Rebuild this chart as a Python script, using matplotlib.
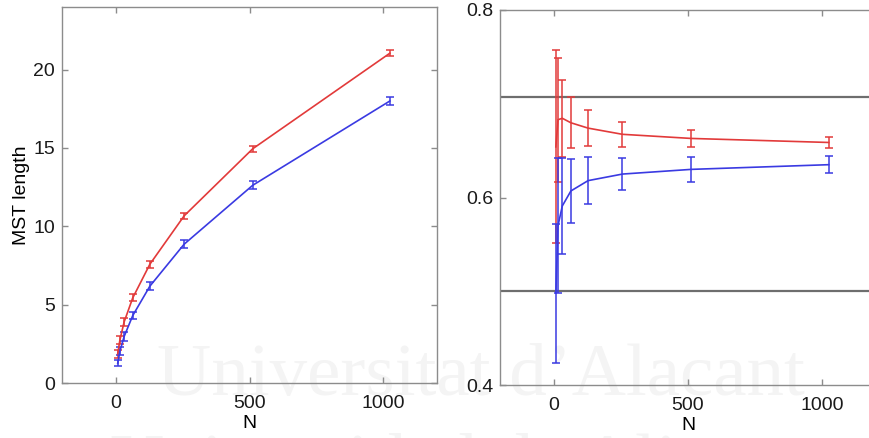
import matplotlib
matplotlib.use("Agg")
import matplotlib.pyplot as plt

# problem sizes
N = [8, 16, 32, 64, 128, 256, 512, 1024]

# left panel: MST length (mean and error)
mst_red = [1.85, 2.73, 3.90, 5.43, 7.58, 10.67, 14.95, 21.05]
mst_red_err = [0.28, 0.26, 0.23, 0.22, 0.21, 0.20, 0.20, 0.19]
mst_blue = [1.25, 2.02, 2.97, 4.30, 6.18, 8.86, 12.62, 18.00]
mst_blue_err = [0.19, 0.26, 0.26, 0.24, 0.25, 0.24, 0.26, 0.26]

# right panel: normalised length (mean and error)
norm_red = [0.654, 0.683, 0.6845, 0.6797, 0.674, 0.6674, 0.663, 0.6587]
norm_red_err = [0.103, 0.066, 0.041, 0.027, 0.019, 0.013, 0.009, 0.006]
norm_blue = [0.498, 0.570, 0.591, 0.607, 0.618, 0.625, 0.630, 0.635]
norm_blue_err = [0.074, 0.072, 0.051, 0.034, 0.025, 0.017, 0.013, 0.009]

# horizontal reference levels on the right panel
ref_levels = [0.7071, 0.5]

plt.rcParams['font.family'] = ['Liberation Sans', 'DejaVu Sans']
plt.rcParams['font.size'] = 14

RED = '#e23a3a'
BLUE = '#3a3ae2'
SPINE = '#8c8c8c'

fig = plt.figure(figsize=(8.69, 4.38), dpi=100)

# faint watermark behind everything
wm = dict(fontsize=54, family=['Liberation Serif', 'DejaVu Serif'],
          color='#f4f4f4', zorder=-1)
fig.text(157 / 869, 1 - 395 / 438, "Universitat d\u2019Alacant", **wm)
fig.text(110 / 869, 1 - 485 / 438, "Universidad de Alicante", **wm)

ax1 = fig.add_axes([62 / 869, 1 - 383 / 438, 375 / 869, 376 / 438])
ax2 = fig.add_axes([500 / 869, 1 - 385 / 438, 376 / 869, 375 / 438])


def style(ax):
    ax.set_facecolor('none')
    for s in ax.spines.values():
        s.set_color(SPINE)
        s.set_linewidth(1.0)
    ax.tick_params(direction='in', length=4, width=1, color=SPINE,
                   top=True, right=True, labelcolor='#1a1a1a')
    ax.tick_params(axis='x', pad=8.5)
    ax.tick_params(axis='y', pad=5)


ekw = dict(linewidth=1.2, elinewidth=1.1, capsize=3, capthick=1.1)

ax1.errorbar(N, mst_red, yerr=mst_red_err, color=RED, **ekw)
ax1.errorbar(N, mst_blue, yerr=mst_blue_err, color=BLUE, **ekw)
ax1.set_xlim(-200, 1200)
ax1.set_ylim(0, 24)
ax1.set_xticks([0, 500, 1000])
ax1.set_yticks([0, 5, 10, 15, 20])
ax1.set_xlabel('N', labelpad=2)
ax1.set_ylabel('MST length', labelpad=2.5)
style(ax1)

for lv in ref_levels:
    ax2.axhline(lv, color='#6e6e6e', linewidth=1.6, zorder=1)
ax2.errorbar(N, norm_red, yerr=norm_red_err, color=RED, zorder=3, **ekw)
ax2.errorbar(N, norm_blue, yerr=norm_blue_err, color=BLUE, zorder=3, **ekw)
ax2.set_xlim(-200, 1200)
ax2.set_ylim(0.4, 0.8)
ax2.set_xticks([0, 500, 1000])
ax2.set_yticks([0.4, 0.6, 0.8])
ax2.set_xlabel('N', labelpad=2)
style(ax2)

fig.savefig('out.png', dpi=100)
